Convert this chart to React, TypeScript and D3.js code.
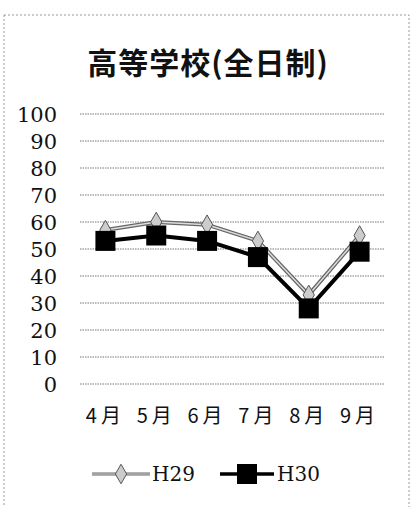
import * as d3 from 'd3'

const months = ['4月', '5月', '6月', '7月', '8月', '9月']
const h29 = [57, 60, 59, 53, 33, 55]
const h30 = [53, 55, 53, 47, 28, 49]
const yTicks = [0, 10, 20, 30, 40, 50, 60, 70, 80, 90, 100]

const W = 414
const H = 507
const margin = { top: 114, right: 29, bottom: 123, left: 80 }

export default function App() {
  const x = d3
    .scalePoint<string>()
    .domain(months)
    .range([margin.left, W - margin.right])
    .padding(0.5)
  const y = d3
    .scaleLinear()
    .domain([0, 100])
    .range([H - margin.bottom, margin.top])

  const line = d3
    .line<number>()
    .x((_, i) => x(months[i]) as number)
    .y((d) => y(d))

  const diamond = d3.symbol().type(d3.symbolDiamond).size(110)

  return (
    <svg
      width={W}
      height={H}
      style={{ position: 'absolute', left: 0, top: 0, background: '#fff' }}
    >
      <rect
        x={4}
        y={15}
        width={405}
        height={500}
        fill="none"
        stroke="#999"
        strokeWidth={1}
        strokeDasharray="2 2"
      />
      <text
        x={208}
        y={74}
        textAnchor="middle"
        fontFamily="'Noto Sans CJK JP', sans-serif"
        fontWeight="bold"
        fontSize={30}
        letterSpacing={1}
        fill="#111"
      >
        高等学校(全日制)
      </text>

      {yTicks.map((t) => (
        <g key={t}>
          <line
            x1={margin.left}
            x2={W - margin.right}
            y1={y(t)}
            y2={y(t)}
            stroke="#666"
            strokeWidth={0.9}
            strokeDasharray="1.5 1"
          />
          <text
            x={57}
            y={y(t)}
            dy="0.36em"
            textAnchor="end"
            fontFamily="'DejaVu Serif', serif"
            fontSize={21}
            fill="#111"
          >
            {t}
          </text>
        </g>
      ))}

      {months.map((m) => (
        <text
          key={m}
          x={x(m)}
          y={423}
          textAnchor="middle"
          fontFamily="'Noto Sans CJK JP', sans-serif"
          fontSize={20}
          letterSpacing={4}
          fill="#111"
        >
          {m}
        </text>
      ))}

      {/* H29 */}
      <path d={line(h29) || ''} fill="none" stroke="#666" strokeWidth={4} />
      <path d={line(h29) || ''} fill="none" stroke="#ddd" strokeWidth={1.5} />
      {h29.map((v, i) => (
        <path
          key={i}
          d={diamond() || ''}
          transform={`translate(${x(months[i])},${y(v)})`}
          fill="#ccc"
          stroke="#555"
          strokeWidth={1}
        />
      ))}

      {/* H30 */}
      <path d={line(h30) || ''} fill="none" stroke="#000" strokeWidth={4} />
      {h30.map((v, i) => (
        <rect
          key={i}
          x={(x(months[i]) as number) - 10}
          y={y(v) - 10}
          width={20}
          height={20}
          fill="#000"
        />
      ))}

      {/* legend */}
      <g transform="translate(92,474)">
        <line x1={0} x2={58} y1={0} y2={0} stroke="#666" strokeWidth={3} />
        <line x1={0} x2={58} y1={0} y2={0} stroke="#ddd" strokeWidth={1} />
        <path
          d={diamond() || ''}
          transform="translate(29,0)"
          fill="#ccc"
          stroke="#555"
          strokeWidth={1}
        />
        <text
          x={60}
          y={0}
          dy="0.36em"
          fontFamily="'DejaVu Serif', serif"
          fontSize={20}
          fill="#111"
        >
          H29
        </text>
      </g>
      <g transform="translate(220,474)">
        <line x1={0} x2={54} y1={0} y2={0} stroke="#000" strokeWidth={3.5} />
        <rect x={17} y={-10} width={20} height={20} fill="#000" />
        <text
          x={57}
          y={0}
          dy="0.36em"
          fontFamily="'DejaVu Serif', serif"
          fontSize={20}
          fill="#111"
        >
          H30
        </text>
      </g>
    </svg>
  )
}
